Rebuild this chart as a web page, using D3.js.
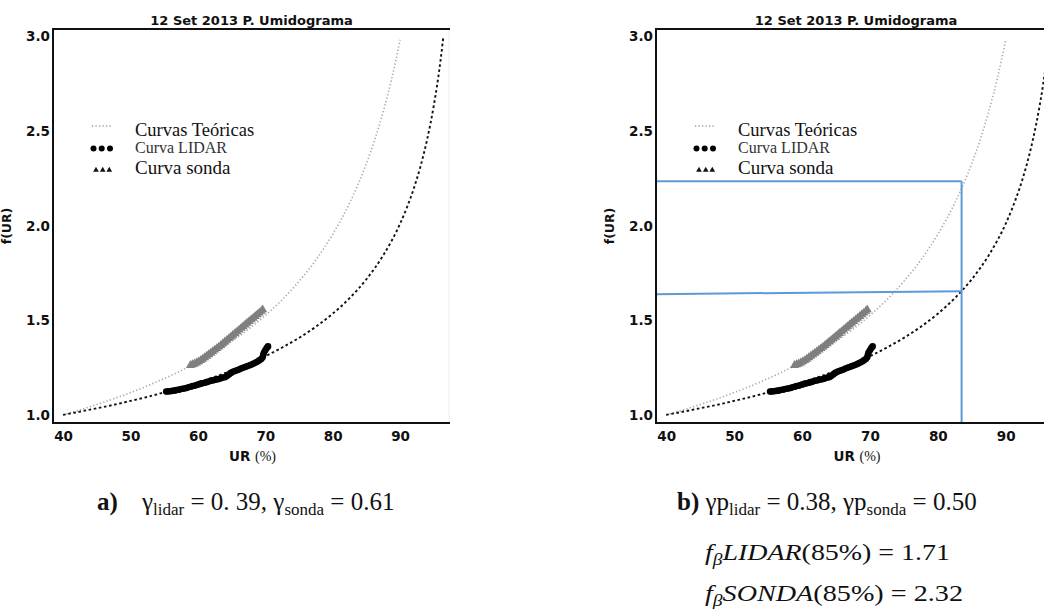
<!DOCTYPE html>
<html>
<head>
<meta charset="utf-8">
<script src="https://cdn.jsdelivr.net/npm/d3@7"></script>
<style>
  body { margin: 0; background: #fff; }
  svg { display: block; }
</style>
</head>
<body>
<svg id="fig" width="1044" height="609"></svg>
<script>
// ---- Theoretical humidogram curves f(UR) (dotted: gamma 0.61, dashed: gamma 0.39)
const curveRH_sonda = [40, 42.5, 45, 47.5, 50, 52.5, 55, 57.5, 60, 62.5, 65, 67.5, 70, 72.5, 75, 77.5, 80, 82.5, 85, 86.25, 87.5, 88.75, 90];
const curveF_sonda  = [1.000, 1.026, 1.055, 1.085, 1.118, 1.153, 1.192, 1.234, 1.281, 1.332, 1.389, 1.453, 1.526, 1.609, 1.706, 1.819, 1.955, 2.120, 2.329, 2.456, 2.604, 2.777, 2.983];

const curveRH_lidar = [40, 42.5, 45, 47.5, 50, 52.5, 55, 57.5, 60, 62.5, 65, 67.5, 70, 72.5, 75, 77.5, 80, 82.5, 85, 87.5, 90, 91, 92, 93, 94, 95, 95.5, 96, 96.4];
const curveF_lidar  = [1.000, 1.017, 1.035, 1.053, 1.074, 1.095, 1.119, 1.144, 1.171, 1.201, 1.234, 1.270, 1.310, 1.356, 1.407, 1.466, 1.535, 1.617, 1.717, 1.844, 2.011, 2.096, 2.194, 2.311, 2.455, 2.636, 2.746, 2.875, 2.996];

// ---- Measured growth factors
const lidarRH = [55.3, 55.6, 55.9, 56.2, 56.5, 56.8, 57.1, 57.4, 57.7, 58.0, 58.3, 58.6, 58.9, 59.2, 59.5, 59.8, 60.1, 60.4, 60.7, 61.0, 61.3, 61.6, 61.9, 62.2, 62.5, 62.8, 63.1, 63.4, 63.7, 64.0, 64.3, 64.6, 64.9, 65.2, 65.5, 65.8, 66.1, 66.4, 66.7, 67.0, 67.3, 67.6, 67.9, 68.2, 68.5, 68.8, 69.1, 69.4, 69.6, 69.7, 69.8, 70.0, 70.2, 70.4];
const lidarF  = [1.123, 1.124, 1.125, 1.127, 1.128, 1.131, 1.133, 1.135, 1.138, 1.139, 1.142, 1.146, 1.149, 1.152, 1.154, 1.158, 1.161, 1.165, 1.167, 1.170, 1.173, 1.176, 1.180, 1.182, 1.185, 1.187, 1.190, 1.193, 1.197, 1.199, 1.205, 1.214, 1.222, 1.228, 1.232, 1.236, 1.240, 1.245, 1.249, 1.253, 1.257, 1.261, 1.265, 1.270, 1.275, 1.281, 1.288, 1.295, 1.305, 1.318, 1.330, 1.342, 1.353, 1.362];

const sondaRH = [58.9, 59.2, 59.5, 59.8, 60.1, 60.4, 60.7, 61.0, 61.3, 61.6, 61.9, 62.2, 62.5, 62.8, 63.1, 63.4, 63.7, 64.0, 64.3, 64.6, 64.9, 65.2, 65.5, 65.8, 66.1, 66.4, 66.7, 67.0, 67.3, 67.6, 67.9, 68.2, 68.5, 68.8, 69.1, 69.4, 69.6];
const sondaF  = [1.262, 1.266, 1.270, 1.275, 1.281, 1.288, 1.295, 1.303, 1.311, 1.319, 1.327, 1.335, 1.343, 1.351, 1.359, 1.368, 1.377, 1.386, 1.395, 1.404, 1.413, 1.422, 1.431, 1.440, 1.449, 1.458, 1.467, 1.476, 1.485, 1.494, 1.503, 1.512, 1.521, 1.530, 1.539, 1.548, 1.556];

// ---- Axes, labels
const xTicks = [40, 50, 60, 70, 80, 90];
const yTicks = [1.0, 1.5, 2.0, 2.5, 3.0];
const xDomain = [38.5, 97.4];
const yDomain = [0.957, 3.04];
const panelTitle = "12 Set 2013 P. Umidograma";
const yLabel = "f(UR)";
const legendLabels = ["Curvas Teóricas", "Curva LIDAR", "Curva sonda"];

// ---- Reading guides on panel b (UR, f)
const guideUpper = [[38.5, 2.235], [83.5, 2.235]];
const guideVertical = [[83.5, 2.235], [83.5, 0.957]];
const guideLower = [[38.5, 1.638], [83.5, 1.654]];

const svg = d3.select("#fig");
svg.append("rect").attr("width", 1044).attr("height", 609).attr("fill", "#fff");

const SANS = "'DejaVu Sans', Verdana, sans-serif";
const SERIF = "'Liberation Serif', 'Times New Roman', serif";

function drawPanel(p) {
  const x = d3.scaleLinear().domain(xDomain).range([p.left, p.right]);
  const y = d3.scaleLinear().domain(yDomain).range([p.bottom, p.top]);
  const g = svg.append("g");

  const line = d3.line().x(d => x(d[0])).y(d => y(d[1]));
  const smooth = d3.line().x(d => x(d[0])).y(d => y(d[1])).curve(d3.curveMonotoneX);

  // faint right border
  g.append("line").attr("x1", p.right - 1).attr("x2", p.right - 1)
    .attr("y1", p.top).attr("y2", p.bottom)
    .attr("stroke", "#ececec").attr("stroke-width", 1);

  // theoretical curves
  g.append("path").datum(d3.zip(curveRH_sonda, curveF_sonda)).attr("d", smooth)
    .attr("fill", "none").attr("stroke", "#a9a9a9").attr("stroke-width", 1.6)
    .attr("stroke-dasharray", "1.3,2.2");
  g.append("path").datum(d3.zip(curveRH_lidar, curveF_lidar)).attr("d", smooth)
    .attr("fill", "none").attr("stroke", "#111").attr("stroke-width", 1.9)
    .attr("stroke-dasharray", "2.6,2.6");

  // sonda points (triangles)
  g.append("g").selectAll("path").data(d3.zip(sondaRH, sondaF)).join("path")
    .attr("d", d3.symbol(d3.symbolTriangle, 36))
    .attr("transform", d => `translate(${x(d[0])},${y(d[1])})`)
    .attr("fill", "#7f7f7f");

  // lidar points (circles)
  g.append("g").selectAll("circle").data(d3.zip(lidarRH, lidarF)).join("circle")
    .attr("cx", d => x(d[0])).attr("cy", d => y(d[1])).attr("r", 3.3)
    .attr("fill", "#000");

  if (p.guides) {
    [guideUpper, guideVertical, guideLower].forEach(seg => {
      g.append("path").datum(seg).attr("d", line)
        .attr("fill", "none").attr("stroke", "#5b9bd5").attr("stroke-width", 2);
    });
  }

  // spines
  const spine = (x1, y1, x2, y2) => g.append("line")
    .attr("x1", x1).attr("y1", y1).attr("x2", x2).attr("y2", y2)
    .attr("stroke", "#111").attr("stroke-width", 2);
  spine(p.left, p.top, p.left, p.bottom + 1);
  spine(p.left - 1, p.top, p.right, p.top);
  spine(p.left - 1, p.bottom, p.right, p.bottom);

  // tick labels
  const xa = g.append("g").attr("transform", `translate(0,${p.bottom})`)
    .call(d3.axisBottom(x).tickValues(xTicks).tickSize(0).tickPadding(8).tickFormat(d3.format("d")));
  const ya = g.append("g").attr("transform", `translate(${p.left},0)`)
    .call(d3.axisLeft(y).tickValues(yTicks).tickSize(0).tickPadding(3).tickFormat(d3.format(".1f")));
  [xa, ya].forEach(a => {
    a.select(".domain").remove();
    a.selectAll("text").attr("font-family", SANS).attr("font-weight", "bold")
      .attr("font-size", 13.5).attr("fill", "#111");
  });

  // title
  g.append("text").attr("x", (p.left + p.right) / 2).attr("y", 25)
    .attr("text-anchor", "middle").attr("font-family", SANS).attr("font-weight", "bold")
    .attr("font-size", 13).attr("fill", "#111").text(panelTitle);

  // x label
  const xl = g.append("text").attr("x", (p.left + p.right) / 2 + 1).attr("y", 461)
    .attr("text-anchor", "middle").attr("fill", "#111");
  xl.append("tspan").attr("font-family", SANS).attr("font-weight", "bold").attr("font-size", 13.5).text("UR ");
  xl.append("tspan").attr("font-family", SERIF).attr("font-size", 14).text("(%)");

  // y label
  g.append("text").attr("transform", `translate(${p.left - 42},226) rotate(-90)`)
    .attr("text-anchor", "middle").attr("font-family", SANS).attr("font-weight", "bold")
    .attr("font-size", 12.5).attr("fill", "#111").text(yLabel);

  // legend
  const lg = g.append("g").attr("transform", `translate(${p.left},0)`);
  lg.append("line").attr("x1", 39).attr("x2", 60).attr("y1", 126).attr("y2", 126)
    .attr("stroke", "#666").attr("stroke-width", 1.2).attr("stroke-dasharray", "1.2,2.3");
  lg.selectAll("circle").data([40.5, 48.7, 57]).join("circle")
    .attr("cx", d => d).attr("cy", 148.5).attr("r", 3).attr("fill", "#000");
  lg.selectAll("path.lt").data([43, 49.7, 56.3]).join("path").attr("class", "lt")
    .attr("d", d3.symbol(d3.symbolTriangle, 14))
    .attr("transform", d => `translate(${d},170)`).attr("fill", "#111");
  const lsz = [18.5, 16, 19];
  const lyy = [136, 153, 174];
  legendLabels.forEach((t, i) => {
    lg.append("text").attr("x", 82).attr("y", lyy[i]).attr("font-family", SERIF)
      .attr("font-size", lsz[i]).attr("fill", i === 1 ? "#333" : "#111").text(t);
  });
}

drawPanel({ left: 53, right: 450, top: 29, bottom: 423, guides: false });
drawPanel({ left: 656, right: 1056, top: 29, bottom: 423, guides: true });

// ---- Captions
function subText(sel, parts, subSize) {
  parts.forEach(pt => {
    const t = sel.append("tspan").text(pt.t);
    if (pt.x !== undefined) t.attr("x", pt.x);
    if (pt.sub) t.attr("font-size", subSize).attr("dy", 5);
    else if (pt.back) t.attr("dy", -5);
    if (pt.bold) t.attr("font-weight", "bold");
  });
}

const capA = svg.append("text").attr("x", 97).attr("y", 510)
  .attr("font-family", SERIF).attr("font-size", 25).attr("fill", "#111");
subText(capA, [
  { t: "a)", bold: true },
  { t: "γ", x: 142 },
  { t: "lidar", sub: true },
  { t: " = 0. 39, γ", back: true },
  { t: "sonda", sub: true },
  { t: " = 0.61", back: true }
], 17);

const capB = svg.append("text").attr("x", 677).attr("y", 510)
  .attr("font-family", SERIF).attr("font-size", 25).attr("fill", "#111");
subText(capB, [
  { t: "b)", bold: true },
  { t: " γp" },
  { t: "lidar", sub: true },
  { t: " = 0.38, γp", back: true },
  { t: "sonda", sub: true },
  { t: " = 0.50", back: true }
], 17);

const fLines = [
  { name: "LIDAR", val: "1.71", y: 560, w: 245 },
  { name: "SONDA", val: "2.32", y: 601, w: 258 }
];
fLines.forEach(l => {
  const t = svg.append("text").attr("x", 705).attr("y", l.y)
    .attr("font-family", SERIF).attr("font-size", 23).attr("fill", "#111")
    .attr("textLength", l.w).attr("lengthAdjust", "spacingAndGlyphs");
  t.append("tspan").attr("font-style", "italic").text("f");
  t.append("tspan").attr("font-style", "italic").attr("font-size", 16).attr("dy", 5).text("β");
  t.append("tspan").attr("font-style", "italic").attr("dy", -5).text(l.name);
  t.append("tspan").text(`(85%) = ${l.val}`);
});
</script>
</body>
</html>
